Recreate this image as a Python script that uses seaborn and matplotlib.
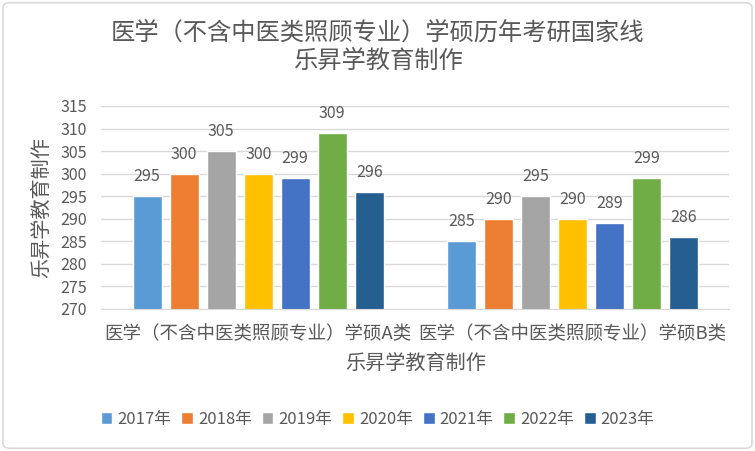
# plot.py
import seaborn as sns
import matplotlib.pyplot as plt
import pandas as pd
from matplotlib.patches import FancyBboxPatch

# Data
categories = ['医学（不含中医类照顾专业）学硕A类', '医学（不含中医类照顾专业）学硕B类']
years = ['2017年', '2018年', '2019年', '2020年', '2021年', '2022年', '2023年']
scores_a = [295, 300, 305, 300, 299, 309, 296]
scores_b = [285, 290, 295, 290, 289, 299, 286]

colors = ['#5B9BD5', '#ED7D31', '#A5A5A5', '#FFC000', '#4472C4', '#70AD47', '#255E91']

df = pd.DataFrame({
    '类别': [categories[0]] * 7 + [categories[1]] * 7,
    '年份': years * 2,
    '分数': scores_a + scores_b,
})

sns.set_style('white')
plt.rcParams['font.family'] = ['Noto Sans CJK SC', 'DejaVu Sans']
text_color = '#595959'

fig = plt.figure(figsize=(7.55, 4.51), dpi=100)
ax = fig.add_axes([0.134, 0.315, 0.832, 0.45])

sns.barplot(data=df, x='类别', y='分数', hue='年份', palette=colors,
            width=0.825, gap=0.22, ax=ax, legend=True, saturation=1)

for cont in ax.containers:
    ax.bar_label(cont, padding=8, fontsize=11.5, color=text_color)

ax.set_ylim(270, 315)
ax.set_yticks(range(270, 316, 5))
ax.set_xlim(-0.5, 1.5)
ax.yaxis.grid(True, color='#D9D9D9', linewidth=1)
ax.set_axisbelow(True)
for side in ['top', 'right', 'left']:
    ax.spines[side].set_visible(False)
ax.spines['bottom'].set_color('#D9D9D9')
ax.tick_params(axis='both', length=0, colors=text_color)
ax.tick_params(axis='y', labelsize=11.5, pad=10)
ax.tick_params(axis='x', labelsize=13.3, pad=12)

ax.set_xlabel('乐昇学教育制作', fontsize=14.5, color=text_color, labelpad=7)
ax.set_ylabel('乐昇学教育制作', fontsize=14.5, color=text_color, labelpad=6)

fig.text(0.5, 0.927, '医学（不含中医类照顾专业）学硕历年考研国家线', ha='center', va='center',
         fontsize=17.5, color=text_color)
fig.text(0.5, 0.865, '乐昇学教育制作', ha='center', va='center',
         fontsize=17.5, color=text_color)

handles, labels = ax.get_legend_handles_labels()
ax.get_legend().remove()
fig.legend(handles, labels, loc='center', bbox_to_anchor=(0.5, 0.07), ncol=7,
           frameon=False, fontsize=12, labelcolor=text_color,
           handlelength=0.7, handleheight=0.7, handletextpad=0.3, columnspacing=0.6)

# light rounded border around the chart area
fig.patches.append(FancyBboxPatch((0.004, 0.006), 0.992, 0.988,
                                  boxstyle='round,pad=0,rounding_size=0.01',
                                  transform=fig.transFigure, fill=False,
                                  edgecolor='#D9D9D9', linewidth=1.2))

plt.savefig('out.png', dpi=100)
